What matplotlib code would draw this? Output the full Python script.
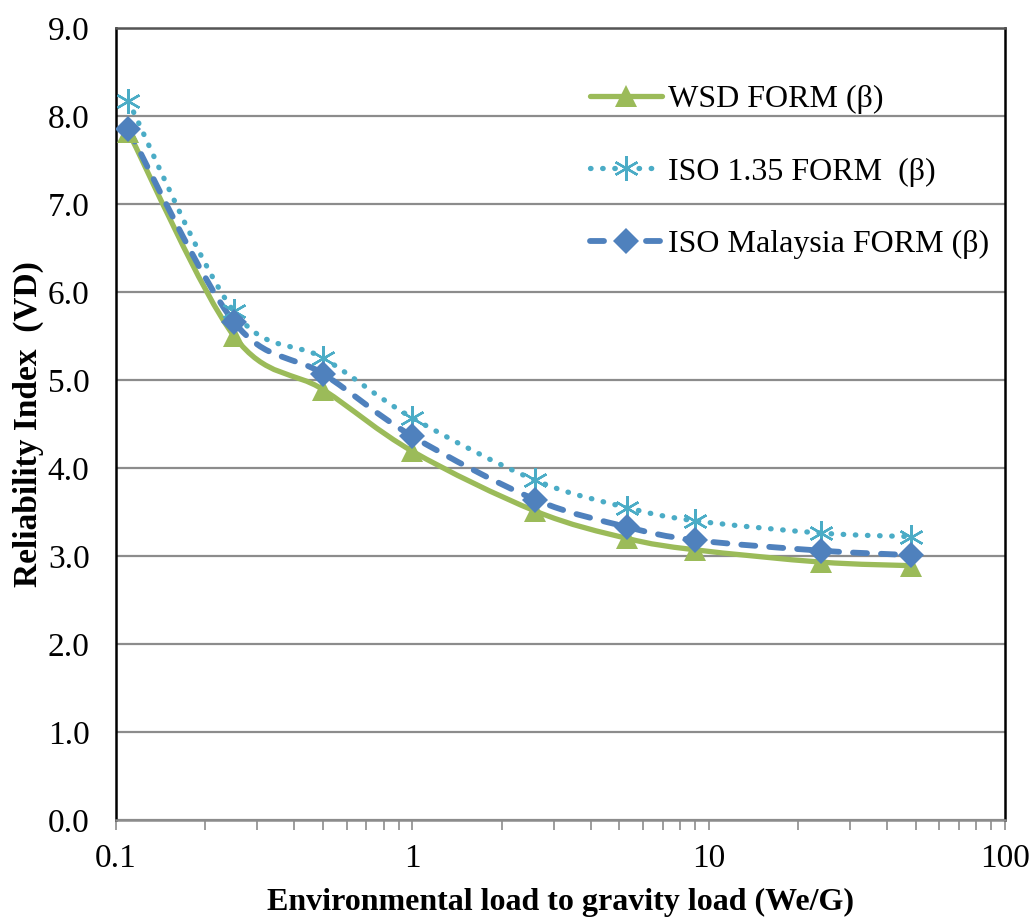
import numpy as np
import matplotlib.pyplot as plt
from matplotlib.path import Path
from matplotlib.patches import PathPatch
from matplotlib.lines import Line2D
from matplotlib.ticker import FixedLocator, LogLocator, NullFormatter

plt.rcParams['font.family'] = ['Liberation Serif', 'DejaVu Serif']

# data
ratio = [0.11, 0.25, 0.5, 1.0, 2.6, 5.3, 9.0, 24.0, 48.0]
wsd_form = [7.82, 5.50, 4.89, 4.19, 3.51, 3.20, 3.07, 2.93, 2.89]
iso135_form = [8.17, 5.78, 5.25, 4.57, 3.86, 3.55, 3.40, 3.26, 3.22]
iso_malaysia_form = [7.85, 5.66, 5.07, 4.36, 3.64, 3.33, 3.18, 3.06, 3.01]

series_names = ['WSD FORM (\u03b2)', 'ISO 1.35 FORM  (\u03b2)', 'ISO Malaysia FORM (\u03b2)']
yticks = np.arange(0, 9.5, 1.0)


def smooth_path(x, y):
    # Excel-like smoothed line: cubic bezier through the points in log-x space
    lx = np.log10(x)
    y = np.asarray(y, dtype=float)
    n = len(lx)
    verts = [(lx[0], y[0])]
    codes = [Path.MOVETO]
    for i in range(n - 1):
        i0 = max(i - 1, 0)
        i3 = min(i + 2, n - 1)
        c1 = (lx[i] + (lx[i + 1] - lx[i0]) / 6.0, y[i] + (y[i + 1] - y[i0]) / 6.0)
        c2 = (lx[i + 1] - (lx[i3] - lx[i]) / 6.0, y[i + 1] - (y[i3] - y[i]) / 6.0)
        verts += [c1, c2, (lx[i + 1], y[i + 1])]
        codes += [Path.CURVE4] * 3
    verts = [(10 ** vx, vy) for vx, vy in verts]
    return Path(verts, codes)


fig = plt.figure(figsize=(10.33, 9.18), dpi=100)
ax = fig.add_axes([0.1123, 0.1068, 0.8606, 0.8627])

styles = [
    dict(color='#9BBB59', ls='-', lw=3.8, marker='^', ms=16),
    dict(color='#4BACC6', ls=(0, (0.1, 2.2)), lw=3.8, marker=(6, 2, 0), ms=18),
    dict(color='#4F81BD', ls=(0, (2.4, 2.4)), lw=4.2, marker='D', ms=13),
]
data = [wsd_form, iso135_form, iso_malaysia_form]

handles = []
for vals, st, name in zip(data, styles, series_names):
    patch = PathPatch(smooth_path(ratio, vals), facecolor='none', edgecolor=st['color'],
                      lw=st['lw'], linestyle=st['ls'], capstyle='round', zorder=3)
    ax.add_patch(patch)
    mew = 1.7 if isinstance(st['marker'], tuple) else 0
    ax.plot(ratio, vals, linestyle='none', marker=st['marker'], ms=st['ms'],
            color=st['color'], mec=st['color'], mew=mew, zorder=4)
    h = Line2D([], [], color=st['color'], lw=st['lw'], linestyle=st['ls'],
               dash_capstyle='round', solid_capstyle='round',
               marker=st['marker'], ms=st['ms'], mec=st['color'], mew=mew)
    handles.append(h)

ax.set_xscale('log')
ax.set_xlim(0.1, 100)
ax.set_ylim(0, 9)
ax.set_yticks(yticks)
ax.set_yticklabels(['%.1f' % t for t in yticks])
ax.xaxis.set_major_locator(FixedLocator([0.1, 1, 10, 100]))
ax.set_xticklabels(['0.1', '1', '10', '100'])
ax.xaxis.set_minor_locator(LogLocator(base=10, subs=np.arange(2, 10)))
ax.xaxis.set_minor_formatter(NullFormatter())

ax.grid(axis='y', color='#8C8C8C', lw=1.6)
ax.set_axisbelow(True)
ax.tick_params(axis='y', length=0, labelsize=24, pad=19)
ax.tick_params(axis='x', which='both', direction='out', length=7, width=1.2,
               color='#8C8C8C', labelsize=24, pad=10)

for side in ['left', 'right']:
    ax.spines[side].set_color('black')
    ax.spines[side].set_linewidth(1.8)
ax.spines['top'].set_color('#555555')
ax.spines['top'].set_linewidth(1.8)
ax.spines['bottom'].set_color('#8C8C8C')
ax.spines['bottom'].set_linewidth(1.8)

ax.set_xlabel('Environmental load to gravity load (We/G)', fontsize=23, fontweight='bold', labelpad=10)
ax.set_ylabel('Reliability Index  (VD)', fontsize=24, fontweight='bold', labelpad=3)

ax.legend(handles=handles, labels=series_names, loc='upper right', bbox_to_anchor=(1.015, 0.965),
          frameon=False, fontsize=23, handlelength=2.25, labelspacing=1.36, handletextpad=0.2)

fig.savefig('out.png', dpi=100)
